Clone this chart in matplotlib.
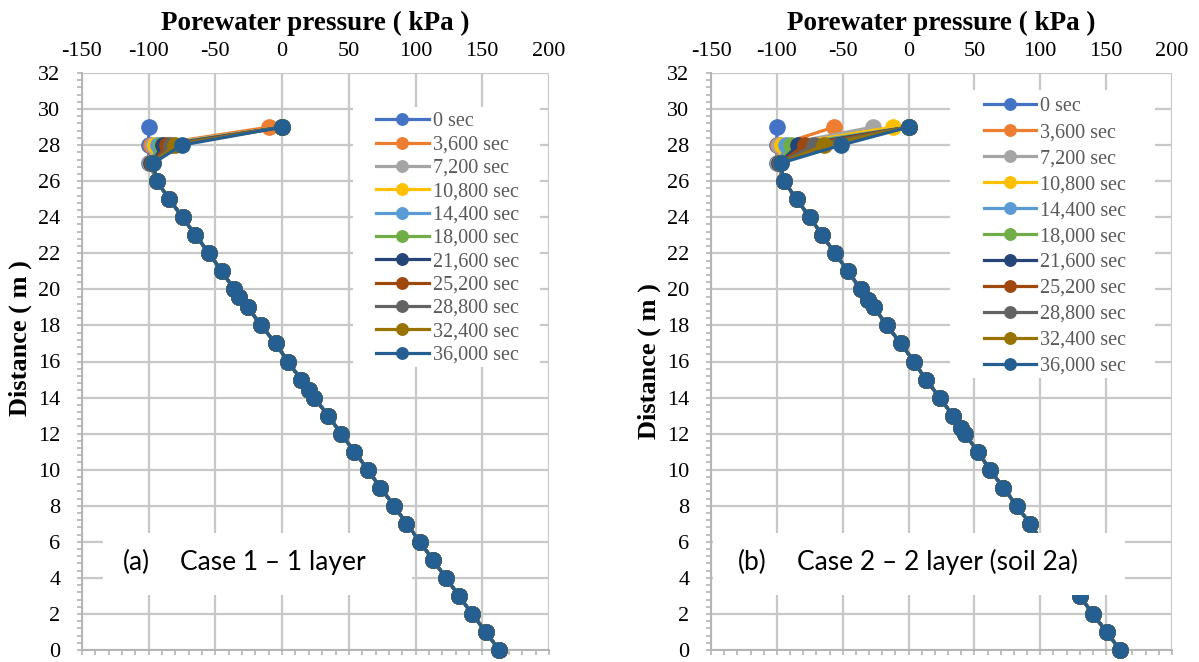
import matplotlib.pyplot as plt
from matplotlib.ticker import MultipleLocator, FuncFormatter
from matplotlib.patches import Rectangle

plt.rcParams['font.family'] = 'Liberation Serif'
plt.rcParams['axes.unicode_minus'] = False

# time steps and Excel-style series colours
times = ['0 sec', '3,600 sec', '7,200 sec', '10,800 sec', '14,400 sec',
         '18,000 sec', '21,600 sec', '25,200 sec', '28,800 sec',
         '32,400 sec', '36,000 sec']
colors = ['#4472C4', '#ED7D31', '#A5A5A5', '#FFC000', '#5B9BD5', '#70AD47',
          '#264478', '#9E480E', '#636363', '#997300', '#255E91']

# Case 1 - one layer: profile below 27 m is the same for every time step
depth_a = [0, 1, 2, 3, 4, 5, 6, 7, 8, 9, 10, 11, 12, 13, 14, 14.4, 15, 16,
           17, 18, 19, 19.6, 20, 21, 22, 23, 24, 25, 26]
lower_a = [162.5, 152.8, 142.3, 132.6, 122.8, 113.0, 103.3, 93.2, 84.0, 73.6,
           64.2, 54.2, 44.1, 34.6, 23.8, 19.8, 14.2, 4.3, -4.8, -15.7, -25.7,
           -32.0, -35.8, -45.3, -54.6, -65.0, -74.6, -84.6, -93.9]
# pressures at 27, 28 and 29 m for each time step
top_a = [[-100, -100, -100], [-99, -98, -9.7], [-99, -97, 0], [-98.5, -95, 0],
         [-98.5, -93, 0], [-98, -91, 0], [-98, -89, 0], [-97.5, -86, 0],
         [-97, -83, 0], [-97, -80, 0], [-96.5, -75.2, 0]]

# Case 2 - two layers (soil 2a)
depth_b = [0, 1, 2, 3, 4, 5, 6, 7, 8, 9, 10, 11, 12, 12.3, 13, 14, 15, 16,
           17, 18, 19, 19.4, 20, 21, 22, 23, 24, 25, 26]
lower_b = [160.5, 150.4, 139.8, 130.1, 120.5, 111.0, 101.5, 92.2, 82.1, 71.9,
           61.8, 52.5, 42.8, 40.0, 33.5, 23.8, 13.0, 4.1, -5.8, -16.6, -26.0,
           -31.0, -36.4, -45.8, -55.9, -65.5, -74.9, -85.0, -94.6]
top_b = [[-100, -100, -100], [-99, -99, -56.6], [-99, -98, -27.3],
         [-98.5, -96, -11.6], [-98.5, -93, 0], [-98, -89, 0], [-98, -84, 0],
         [-97.5, -79, 0], [-97.5, -72, 0], [-97, -64, 0], [-97, -51.3, 0]]
top_depths = [27, 28, 29]

W, H = 1199, 662
fig = plt.figure(figsize=(W / 100, H / 100), dpi=100)


def px_axes(x0, x1, y0, y1):
    # pixel box (left, right, top, bottom) -> figure fraction
    return [x0 / W, (H - y1) / H, (x1 - x0) / W, (y1 - y0) / H]


ax_a = fig.add_axes(px_axes(82, 549, 73, 650))
ax_b = fig.add_axes(px_axes(711, 1172, 73, 650))

grid_col = '#C8C8C8'
axis_col = '#B4B4B4'
serif = 'Liberation Serif'
plain = FuncFormatter(lambda v, pos: f'{v:g}')


def draw_panel(ax, depth, lower, top, leg_box, leg_anchor, spacing,
               cap_box, tag, tag_x, caption, cap_x, ylabel_y):
    for name, col, t in zip(times, colors, top):
        ax.plot(lower + t, depth + top_depths, color=col, lw=2.3, marker='o',
                ms=11, label=name, zorder=3, clip_on=False)

    ax.set_xlim(-150, 200)
    ax.set_ylim(0, 32)
    ax.xaxis.set_major_locator(MultipleLocator(50))
    ax.xaxis.set_minor_locator(MultipleLocator(10))
    ax.yaxis.set_major_locator(MultipleLocator(2))
    ax.yaxis.set_minor_locator(MultipleLocator(0.4))
    ax.xaxis.set_major_formatter(plain)
    ax.yaxis.set_major_formatter(plain)
    ax.grid(True, which='major', color=grid_col, lw=1.6)
    ax.set_axisbelow(True)

    ax.tick_params(axis='x', which='major', top=False, labeltop=True,
                   bottom=True, labelbottom=False, length=3.5, width=1.2,
                   color=axis_col, labelsize=16, pad=5)
    ax.tick_params(axis='x', which='minor', top=False, bottom=True,
                   length=3.5, width=1.2, color=axis_col)
    ax.tick_params(axis='y', which='both', length=3.5, width=1.2,
                   color=axis_col, labelsize=16, pad=12)
    ax.xaxis.set_label_position('top')
    ax.set_xlabel('Porewater pressure ( kPa )', fontsize=19.5,
                  fontweight='bold', labelpad=9)
    ax.set_ylabel('Distance ( m )', fontsize=19, fontweight='bold')
    ax.yaxis.set_label_coords(-0.108, ylabel_y)

    for side in ('top', 'right'):
        ax.spines[side].set_visible(False)
    for side in ('left', 'bottom'):
        ax.spines[side].set_color(axis_col)
        ax.spines[side].set_linewidth(1.4)

    # white legend area hides the grid behind the entries
    lx0, lx1, ly0, ly1 = leg_box
    ax.add_patch(Rectangle((lx0, ly0), lx1 - lx0, ly1 - ly0,
                           transform=ax.transAxes, facecolor='white',
                           edgecolor='none', zorder=2))
    leg = ax.legend(loc='upper left', bbox_to_anchor=leg_anchor,
                    frameon=False, borderpad=0, borderaxespad=0,
                    handlelength=2.6, handletextpad=0.2,
                    labelspacing=spacing, markerscale=0.75,
                    prop={'family': serif, 'size': 14.5})
    leg.set_zorder(4)
    for txt in leg.get_texts():
        txt.set_color('#595959')

    # caption box
    cx0, cx1, cy0, cy1 = cap_box
    ax.add_patch(Rectangle((cx0, cy0), cx1 - cx0, cy1 - cy0,
                           transform=ax.transAxes, facecolor='white',
                           edgecolor='none', zorder=5))
    ax.text(tag_x, 0.152, tag, transform=ax.transAxes, fontsize=19,
            family='Lato', va='center', ha='left', zorder=6)
    ax.text(cap_x, 0.152, caption, transform=ax.transAxes, fontsize=19,
            family='Lato', va='center', ha='left', zorder=6)


draw_panel(ax_a, depth_a, lower_a, top_a,
           leg_box=(0.580, 0.981, 0.490, 0.941), leg_anchor=(0.630, 0.932),
           spacing=0.21, cap_box=(0.045, 0.707, 0.095, 0.203),
           tag='(a)', tag_x=0.088, caption='Case 1 \u2013 1 layer',
           cap_x=0.210, ylabel_y=0.54)
draw_panel(ax_b, depth_b, lower_b, top_b,
           leg_box=(0.518, 0.963, 0.471, 0.971), leg_anchor=(0.592, 0.958),
           spacing=0.34, cap_box=(0.004, 0.898, 0.095, 0.203),
           tag='(b)', tag_x=0.058, caption='Case 2 \u2013 2 layer (soil 2a)',
           cap_x=0.186, ylabel_y=0.50)

fig.savefig('out.png', dpi=100)
